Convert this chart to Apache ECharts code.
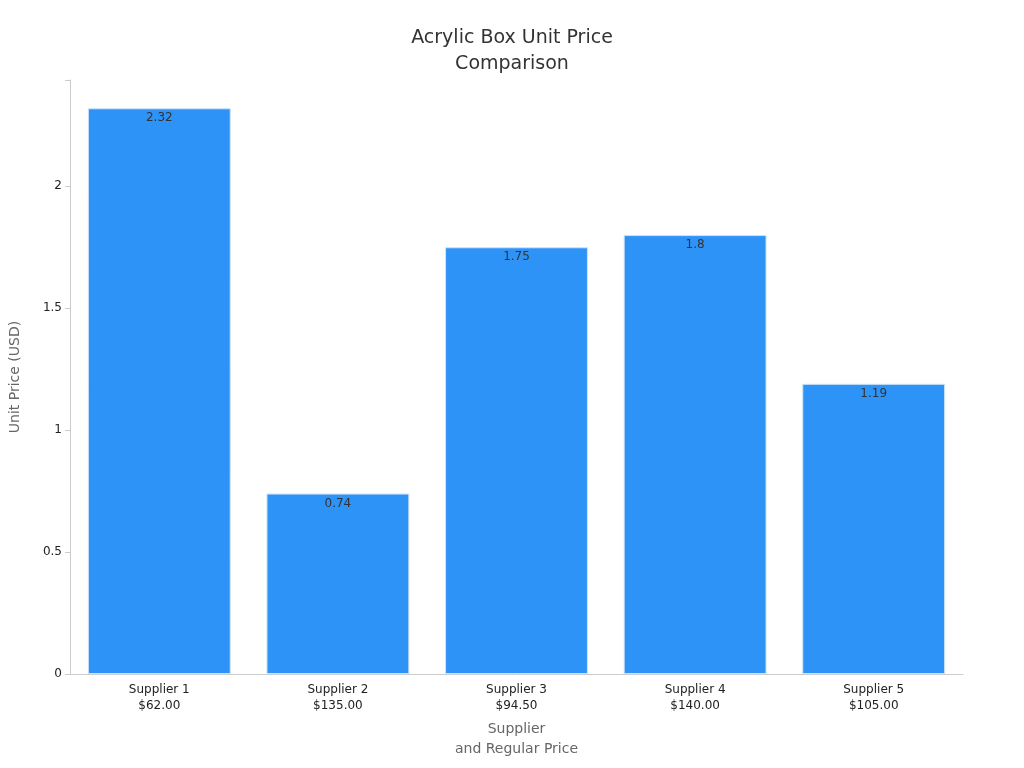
<!DOCTYPE html>
<html>
<head>
<meta charset="utf-8">
<script src="https://cdn.jsdelivr.net/npm/echarts@6/dist/echarts.min.js"></script>
<style>html,body{margin:0;padding:0;background:#fff}#main{width:1024px;height:768px}</style>
</head>
<body>
<div id="main"></div>
<script>
var suppliers = ['Supplier 1', 'Supplier 2', 'Supplier 3', 'Supplier 4', 'Supplier 5'];
var regularPrices = ['$62.00', '$135.00', '$94.50', '$140.00', '$105.00'];
var unitPrices = [2.32, 0.74, 1.75, 1.8, 1.19];

var categories = suppliers.map(function(s, i) { return s + '\n' + regularPrices[i]; });

var chart = echarts.init(document.getElementById('main'));
chart.setOption({
    animation: false,
    textStyle: { fontFamily: 'DejaVu Sans' },
    title: {
        text: 'Acrylic Box Unit Price\nComparison',
        left: 'center',
        top: 20,
        textStyle: { fontSize: 19, fontWeight: 'normal', color: '#333', lineHeight: 26 }
    },
    grid: { left: 65, right: 61, top: 80, bottom: 94 },
    xAxis: {
        type: 'category',
        data: categories,
        name: 'Supplier\nand Regular Price',
        nameLocation: 'middle',
        nameGap: 44,
        nameTextStyle: { fontSize: 14, color: '#666', lineHeight: 20 },
        axisLine: { lineStyle: { color: '#ccc' } },
        axisTick: { alignWithLabel: true, lineStyle: { color: '#ccc' } },
        axisLabel: { color: '#222', fontSize: 12, lineHeight: 16 }
    },
    yAxis: {
        type: 'value',
        min: 0,
        max: 2.436,
        interval: 0.5,
        name: 'Unit Price (USD)',
        nameLocation: 'middle',
        nameGap: 48,
        nameTextStyle: { fontSize: 14, color: '#666' },
        axisLine: { show: true, lineStyle: { color: '#ccc' } },
        axisTick: { show: true, lineStyle: { color: '#ccc' } },
        splitLine: { show: false },
        axisLabel: {
            color: '#222', fontSize: 12,
            formatter: function(v) { return v > 2.4 ? '' : String(v); }
        }
    },
    series: [{
        type: 'bar',
        data: unitPrices,
        barCategoryGap: '20%',
        itemStyle: { color: '#2E93F7', borderColor: '#cfe3f7', borderWidth: 1 },
        label: { show: true, position: 'insideTop', color: '#333', fontSize: 12, distance: 4 }
    }]
});
</script>
</body>
</html>
